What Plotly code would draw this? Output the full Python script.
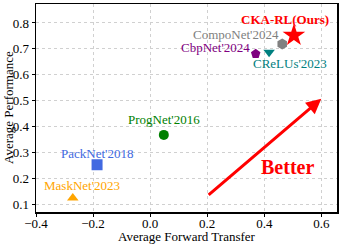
import plotly.graph_objects as go

methods = ["CKA-RL(Ours)", "CompoNet'2024", "CbpNet'2024", "CReLUs'2023", "ProgNet'2016", "PackNet'2018", "MaskNet'2023"]
forward_transfer = [0.504, 0.463, 0.370, 0.417, 0.048, -0.186, -0.271]
performance = [0.752, 0.719, 0.681, 0.687, 0.369, 0.254, 0.126]
colors = ["red", "gray", "purple", "teal", "green", "royalblue", "orange"]
symbols = ["star", "hexagon", "pentagon", "triangle-down", "circle", "square", "triangle-up"]
sizes = [17, 11, 10, 10, 10, 11, 10]
label_x = [0.474, 0.302, 0.229, 0.489, 0.048, -0.186, -0.239]
label_y = [0.815, 0.754, 0.704, 0.642, 0.43, 0.296, 0.175]

x_ticks = [-0.4, -0.2, 0.0, 0.2, 0.4, 0.6]
x_ticktext = ["\u22120.4", "\u22120.2", "0.0", "0.2", "0.4", "0.6"]
y_ticks = [0.1, 0.2, 0.3, 0.4, 0.5, 0.6, 0.7, 0.8]
y_ticktext = ["0.1", "0.2", "0.3", "0.4", "0.5", "0.6", "0.7", "0.8"]

FONT = "Liberation Serif"

fig = go.Figure()
for i, m in enumerate(methods):
    fig.add_trace(go.Scatter(
        x=[forward_transfer[i]], y=[performance[i]], mode="markers",
        marker=dict(symbol=symbols[i], size=sizes[i], color=colors[i], line=dict(width=0)),
        showlegend=False, hoverinfo="skip", cliponaxis=False))
    fig.add_annotation(x=label_x[i], y=label_y[i], text=("<b>%s</b>" % m) if i == 0 else m,
                       showarrow=False, font=dict(family=FONT, size=13, color=colors[i]),
                       xanchor="center", yanchor="middle", borderpad=0)

fig.add_annotation(x=0.6, y=0.508, ax=0.2, ay=0.133, xref="x", yref="y", axref="x", ayref="y",
                   text="", showarrow=True, arrowhead=2, arrowsize=1.0, arrowwidth=3, arrowcolor="red")
fig.add_annotation(x=0.48, y=0.246, text="<b>Better</b>", showarrow=False,
                   font=dict(family=FONT, size=20, color="red"))

# axis titles
fig.add_annotation(x=0.5, y=0, xref="paper", yref="paper", yshift=-24, text="Average Forward Transfer",
                   showarrow=False, font=dict(family=FONT, size=13, color="black"), yanchor="middle",
                   borderpad=0)
fig.add_annotation(x=0, y=0.5, xref="paper", yref="paper", xshift=-28, text="Average Performance",
                   textangle=-90, showarrow=False, font=dict(family=FONT, size=13, color="black"),
                   xanchor="center", yanchor="middle", borderpad=0)

axis_common = dict(showline=True, linecolor="black", linewidth=1.5, mirror=True,
                   ticks="outside", ticklen=3, tickcolor="black",
                   showgrid=True, gridcolor="#d0d0d0", griddash="dot", gridwidth=1,
                   zeroline=False, tickfont=dict(family=FONT, size=13, color="black"))

fig.update_xaxes(range=[-0.4, 0.655], tickvals=x_ticks, ticktext=x_ticktext,
                 ticklabelstandoff=-4, **axis_common)
fig.update_yaxes(range=[0.072, 0.873], tickvals=y_ticks, ticktext=y_ticktext, **axis_common)

fig.update_layout(width=341, height=244, margin=dict(l=36, r=3, t=2, b=32),
                  plot_bgcolor="white", paper_bgcolor="white")
fig.write_html("out.html", config={"displayModeBar": False, "staticPlot": True},
               post_script="document.body.style.margin='0';document.body.style.overflow='hidden';")
